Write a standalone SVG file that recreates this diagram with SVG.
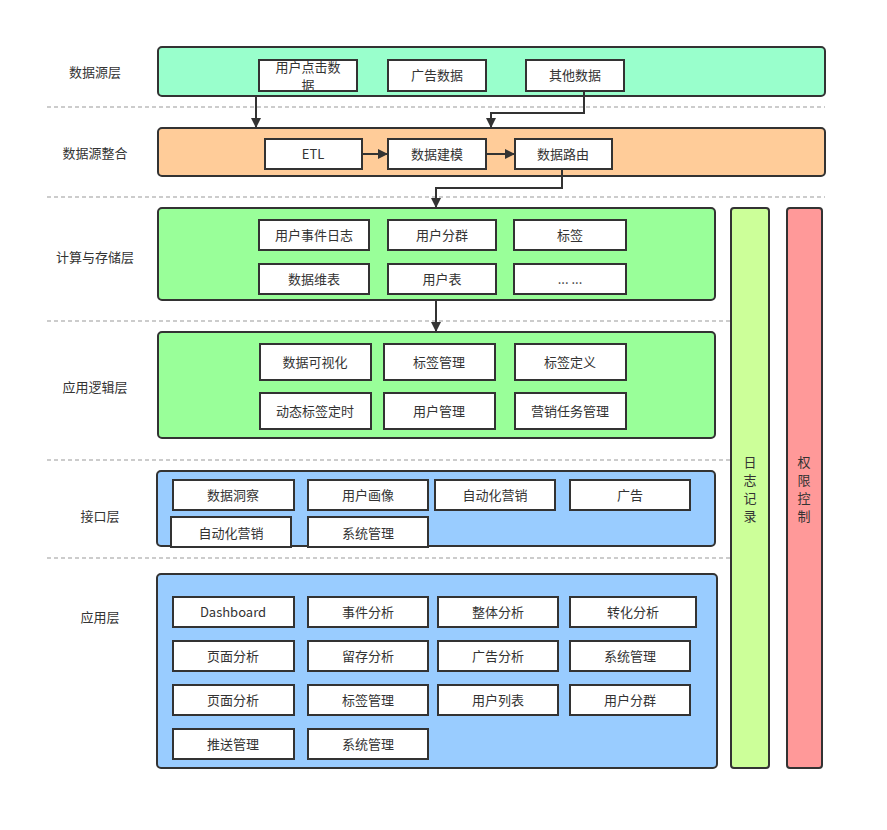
<svg xmlns="http://www.w3.org/2000/svg" width="887" height="830" viewBox="0 0 887 830">
<style>
text{font-family:"Noto Sans CJK SC","Liberation Sans",sans-serif;font-size:13px;fill:#333;text-anchor:middle;dominant-baseline:central}
.layer{stroke:#333;stroke-width:2}
.n{fill:#fff;stroke:#333;stroke-width:2}
.dash{stroke:#999;stroke-width:1;stroke-dasharray:4 3;fill:none}
.c{stroke:#333;stroke-width:2;fill:none}
</style>
<defs>
<marker id="a" markerWidth="10" markerHeight="10" refX="9" refY="5" orient="auto" markerUnits="userSpaceOnUse"><path d="M0,0 L10,5 L0,10 Z" fill="#333"/></marker>
</defs>
<rect width="887" height="830" fill="#fff"/>
<g id="dividers">
<line class="dash" x1="47" y1="107" x2="825" y2="107"/>
<line class="dash" x1="47" y1="197" x2="825" y2="197"/>
<line class="dash" x1="47" y1="321" x2="733" y2="321"/>
<line class="dash" x1="47" y1="460" x2="733" y2="460"/>
<line class="dash" x1="47" y1="558" x2="740" y2="558"/>
</g>
<g id="labels">
<text x="95" y="71">数据源层</text>
<text x="95" y="152">数据源整合</text>
<text x="95" y="256">计算与存储层</text>
<text x="95" y="386">应用逻辑层</text>
<text x="100" y="515">接口层</text>
<text x="100" y="616">应用层</text>
</g>
<g id="layer-source"><rect class="layer" x="158" y="47" width="667" height="49" rx="4" fill="#99FFCC"/></g>
<g id="layer-integration"><rect class="layer" x="158" y="128" width="667" height="48" rx="4" fill="#FFCC99"/></g>
<g id="layer-compute"><rect class="layer" x="158" y="208" width="557" height="92" rx="4" fill="#99FF99"/></g>
<g id="layer-logic"><rect class="layer" x="158" y="332" width="557" height="106" rx="4" fill="#99FF99"/></g>
<g id="layer-interface"><rect class="layer" x="157" y="471" width="558" height="75" rx="4" fill="#99CCFF"/></g>
<g id="layer-app"><rect class="layer" x="157" y="574" width="560" height="194" rx="4" fill="#99CCFF"/></g>
<g id="log"><rect class="layer" x="731" y="208" width="38" height="560" rx="3" fill="#CCFF99"/>
<text x="750" y="461">日</text><text x="750" y="479">志</text><text x="750" y="497">记</text><text x="750" y="515">录</text></g>
<g id="auth"><rect class="layer" x="787" y="208" width="35" height="560" rx="3" fill="#FF9999"/>
<text x="804" y="461">权</text><text x="804" y="479">限</text><text x="804" y="497">控</text><text x="804" y="515">制</text></g>

<g id="n-click"><rect class="n" x="259" y="60" width="98" height="31"/><text x="308" y="66">用户点击数</text><text x="308" y="84">据</text></g>
<g id="n-ad"><rect class="n" x="388" y="60" width="98" height="31"/><text x="437" y="74">广告数据</text></g>
<g id="n-other"><rect class="n" x="526" y="60" width="98" height="31"/><text x="575" y="74">其他数据</text></g>

<g id="n-etl"><rect class="n" x="265" y="139" width="97" height="30"/><text x="313" y="153">ETL</text></g>
<g id="n-model"><rect class="n" x="388" y="139" width="98" height="30"/><text x="437" y="153">数据建模</text></g>
<g id="n-route"><rect class="n" x="515" y="139" width="97" height="30"/><text x="563" y="153">数据路由</text></g>

<g id="n-c1"><rect class="n" x="259" y="220" width="110" height="30"/><text x="314" y="234">用户事件日志</text></g>
<g id="n-c2"><rect class="n" x="388" y="220" width="108" height="30"/><text x="442" y="234">用户分群</text></g>
<g id="n-c3"><rect class="n" x="514" y="220" width="112" height="30"/><text x="570" y="234">标签</text></g>
<g id="n-c4"><rect class="n" x="259" y="264" width="110" height="30"/><text x="314" y="278">数据维表</text></g>
<g id="n-c5"><rect class="n" x="388" y="264" width="108" height="30"/><text x="442" y="278">用户表</text></g>
<g id="n-c6"><rect class="n" x="514" y="264" width="112" height="30"/><text x="570" y="278">... ...</text></g>

<g id="n-l1"><rect class="n" x="260" y="344" width="111" height="36"/><text x="315" y="361">数据可视化</text></g>
<g id="n-l2"><rect class="n" x="384" y="344" width="111" height="36"/><text x="439" y="361">标签管理</text></g>
<g id="n-l3"><rect class="n" x="515" y="344" width="111" height="36"/><text x="570" y="361">标签定义</text></g>
<g id="n-l4"><rect class="n" x="260" y="393" width="111" height="36"/><text x="315" y="410">动态标签定时</text></g>
<g id="n-l5"><rect class="n" x="384" y="393" width="111" height="36"/><text x="439" y="410">用户管理</text></g>
<g id="n-l6"><rect class="n" x="515" y="393" width="111" height="36"/><text x="570" y="410">营销任务管理</text></g>

<g id="n-i1"><rect class="n" x="173" y="480" width="121" height="30"/><text x="233" y="494">数据洞察</text></g>
<g id="n-i2"><rect class="n" x="308" y="480" width="120" height="30"/><text x="368" y="494">用户画像</text></g>
<g id="n-i3"><rect class="n" x="435" y="480" width="120" height="30"/><text x="495" y="494">自动化营销</text></g>
<g id="n-i4"><rect class="n" x="570" y="480" width="120" height="30"/><text x="630" y="494">广告</text></g>
<g id="n-i5"><rect class="n" x="171" y="517" width="120" height="30"/><text x="231" y="532">自动化营销</text></g>
<g id="n-i6"><rect class="n" x="308" y="517" width="120" height="30"/><text x="368" y="532">系统管理</text></g>

<g id="n-a1"><rect class="n" x="173" y="597" width="121" height="30"/><text x="233" y="611">Dashboard</text></g>
<g id="n-a2"><rect class="n" x="308" y="597" width="120" height="30"/><text x="368" y="611">事件分析</text></g>
<g id="n-a3"><rect class="n" x="438" y="597" width="120" height="30"/><text x="498" y="611">整体分析</text></g>
<g id="n-a4"><rect class="n" x="570" y="597" width="126" height="30"/><text x="633" y="611">转化分析</text></g>
<g id="n-a5"><rect class="n" x="173" y="641" width="121" height="30"/><text x="233" y="655">页面分析</text></g>
<g id="n-a6"><rect class="n" x="308" y="641" width="120" height="30"/><text x="368" y="655">留存分析</text></g>
<g id="n-a7"><rect class="n" x="438" y="641" width="120" height="30"/><text x="498" y="655">广告分析</text></g>
<g id="n-a8"><rect class="n" x="570" y="641" width="120" height="30"/><text x="630" y="655">系统管理</text></g>
<g id="n-a9"><rect class="n" x="173" y="685" width="121" height="30"/><text x="233" y="699">页面分析</text></g>
<g id="n-a10"><rect class="n" x="308" y="685" width="120" height="30"/><text x="368" y="699">标签管理</text></g>
<g id="n-a11"><rect class="n" x="438" y="685" width="120" height="30"/><text x="498" y="699">用户列表</text></g>
<g id="n-a12"><rect class="n" x="570" y="685" width="120" height="30"/><text x="630" y="699">用户分群</text></g>
<g id="n-a13"><rect class="n" x="173" y="729" width="121" height="30"/><text x="233" y="743">推送管理</text></g>
<g id="n-a14"><rect class="n" x="308" y="729" width="120" height="30"/><text x="368" y="743">系统管理</text></g>

<g id="connectors">
<path class="c" d="M256,96 L256,127" marker-end="url(#a)"/>
<path class="c" d="M584,91 L584,113 L491,113 L491,127" marker-end="url(#a)"/>
<path class="c" d="M362,154 L387,154" marker-end="url(#a)"/>
<path class="c" d="M486,154 L514,154" marker-end="url(#a)"/>
<path class="c" d="M562,169 L562,188 L436,188 L436,207" marker-end="url(#a)"/>
<path class="c" d="M436,300 L436,331" marker-end="url(#a)"/>
</g>
</svg>
